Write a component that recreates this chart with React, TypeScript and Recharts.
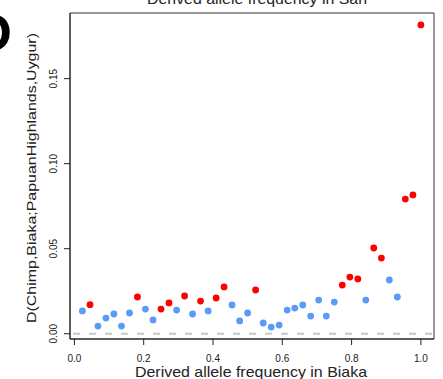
import { ScatterChart, Scatter, XAxis, YAxis, ReferenceLine, ReferenceArea } from 'recharts';

const FONT = '"Liberation Sans", Arial, Helvetica, sans-serif';

// derived allele frequency in Biaka (bins of 1/44)
const biakaFreq = [
  0.023, 0.045, 0.068, 0.091, 0.114, 0.136, 0.159, 0.182, 0.205, 0.227, 0.25,
  0.273, 0.295, 0.318, 0.341, 0.364, 0.386, 0.409, 0.432, 0.455, 0.477, 0.5,
  0.523, 0.545, 0.568, 0.591, 0.614, 0.636, 0.659, 0.682, 0.705, 0.727, 0.75,
  0.773, 0.795, 0.818, 0.841, 0.864, 0.886, 0.909, 0.932, 0.955, 0.977, 1.0,
];

// D(Chimp,Biaka;PapuanHighlands,Uygur)
const dStat = [
  0.0134, 0.0171, 0.0045, 0.0092, 0.0116, 0.0045, 0.0122, 0.0216, 0.0145, 0.0081, 0.0145,
  0.0181, 0.0139, 0.0222, 0.0116, 0.0192, 0.0134, 0.021, 0.0275, 0.0169, 0.0075, 0.0122,
  0.0257, 0.0063, 0.0039, 0.0051, 0.0139, 0.0151, 0.0169, 0.0104, 0.0198, 0.0104, 0.0186,
  0.0286, 0.0333, 0.0322, 0.0198, 0.0504, 0.0445, 0.0316, 0.0216, 0.0792, 0.0816, 0.1816,
];

// 1 = significant (red), 0 = not (blue)
const significant = [
  0, 1, 0, 0, 0, 0, 0, 1, 0, 0, 1,
  1, 0, 1, 0, 1, 0, 1, 1, 0, 0, 0,
  1, 0, 0, 0, 0, 0, 0, 0, 0, 0, 0,
  1, 1, 1, 0, 1, 1, 0, 0, 1, 1, 1,
];

const xTicks = [0, 0.2, 0.4, 0.6, 0.8, 1.0];
const yTicks = [0, 0.05, 0.1, 0.15];
const xDomain = [-0.0127, 1.0378];
const yDomain = [-0.0031, 0.1886];

const points = biakaFreq.map((f, i) => ({ f, d: dStat[i], sig: significant[i] }));
const redPts = points.filter((p) => p.sig === 1);
const bluePts = points.filter((p) => p.sig === 0);

const W = 443;
const H = 379;

const XTick = (props: any) => {
  const { x, payload } = props;
  return (
    <text x={x} y={362} textAnchor="middle" fontSize={10} fill="#222" fontFamily={FONT}>
      {payload.value.toFixed(1)}
    </text>
  );
};

const YTick = (props: any) => {
  const { y, payload } = props;
  return (
    <text
      x={57}
      y={y}
      transform={`rotate(-90, 57, ${y})`}
      textAnchor="middle"
      fontSize={10}
      fill="#222"
      fontFamily={FONT}
    >
      {payload.value.toFixed(2)}
    </text>
  );
};

const dot = (color: string) => (props: any) =>
  <circle cx={props.cx} cy={props.cy} r={3.4} fill={color} />;

export default function App() {
  return (
    <div style={{ position: 'absolute', left: 0, top: 0, width: W, height: H, background: '#fff' }}>
      <ScatterChart width={W} height={H} margin={{ top: 13, right: 9, left: 0, bottom: 0 }}>
        <XAxis
          dataKey="f"
          type="number"
          domain={xDomain}
          ticks={xTicks}
          allowDataOverflow
          height={40}
          tickSize={6}
          stroke="#222"
          tick={<XTick />}
        />
        <YAxis
          dataKey="d"
          type="number"
          domain={yDomain}
          ticks={yTicks}
          allowDataOverflow
          width={70}
          tickSize={6}
          stroke="#222"
          tick={<YTick />}
        />
        <ReferenceArea
          x1={xDomain[0]}
          x2={xDomain[1]}
          y1={yDomain[0]}
          y2={yDomain[1]}
          fill="none"
          fillOpacity={0}
          stroke="#333"
          strokeWidth={1}
        />
        <ReferenceLine
          y={0}
          stroke="#c8c8c8"
          strokeWidth={2}
          strokeDasharray="7 9"
          strokeDashoffset={-3}
        />
        <Scatter data={bluePts} shape={dot('#5b9bf8')} isAnimationActive={false} />
        <Scatter data={redPts} shape={dot('#ff0000')} isAnimationActive={false} />
      </ScatterChart>
      <svg
        width={W}
        height={H}
        style={{ position: 'absolute', left: 0, top: 0, pointerEvents: 'none' }}
        fontFamily={FONT}
      >
        <text x={12} y={51} textAnchor="end" fontSize={54} fontWeight="bold" fill="#000">
          D
        </text>
        <text
          x={257}
          y={4}
          textAnchor="middle"
          fontSize={15}
          fill="#222"
          textLength={220}
          lengthAdjust="spacingAndGlyphs"
        >
          Derived allele frequency in San
        </text>
        <text
          x={251}
          y={377}
          textAnchor="middle"
          fontSize={15}
          fill="#222"
          textLength={232}
          lengthAdjust="spacingAndGlyphs"
        >
          Derived allele frequency in Biaka
        </text>
        <text
          x={36}
          y={178}
          transform="rotate(-90, 36, 178)"
          textAnchor="middle"
          fontSize={13}
          fill="#222"
          textLength={290}
          lengthAdjust="spacingAndGlyphs"
        >
          D(Chimp,Biaka;PapuanHighlands,Uygur)
        </text>
      </svg>
    </div>
  );
}
